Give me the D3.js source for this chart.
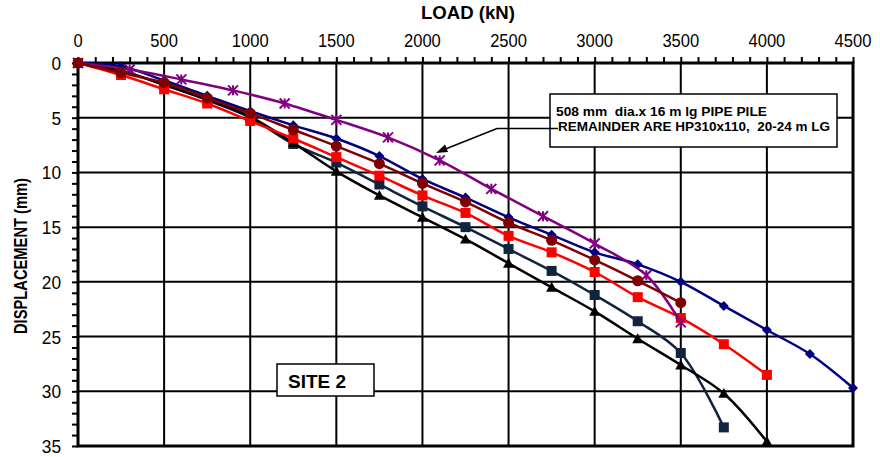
<!DOCTYPE html>
<html><head><meta charset="utf-8">
<script src="https://cdn.jsdelivr.net/npm/d3@7"></script>
<style>body{margin:0;background:#fff}svg{display:block}text{font-family:"Liberation Sans",Arial,sans-serif}</style>
</head><body><svg id="c" width="880" height="457"></svg>
<script>
const xTicks = [0,500,1000,1500,2000,2500,3000,3500,4000,4500];
const yTicks = [0,5,10,15,20,25,30,35];
const loads = [0,250,500,750,1000,1250,1500,1750,2000,2250,2500,2750,3000,3250,3500,3750,4000,4250,4500];
const navyDiamond = [0,0.3,1.6,3.0,4.4,5.7,6.9,8.5,10.6,12.3,14.1,15.7,17.3,18.4,20.0,22.2,24.4,26.6,29.7];
const maroonCircle = [0,0.9,1.8,3.2,4.6,6.1,7.6,9.2,11.0,12.7,14.6,16.2,18.0,19.9,21.9];
const redSquare = [0,1.1,2.4,3.7,5.3,6.9,8.6,10.3,12.1,13.7,15.8,17.3,19.1,21.4,23.3,25.7,28.5];
const darkSquare = [0,0.7,2.0,3.4,5.0,7.4,9.1,11.1,13.1,15.0,17.0,19.0,21.2,23.6,26.5,33.3];
const blackTriangle = [0,0.7,2.0,3.3,4.9,7.3,9.9,12.1,14.1,16.1,18.3,20.5,22.7,25.2,27.6,30.2,34.6];
const pipeLoads = [0,300,600,900,1200,1500,1800,2100,2400,2700,3000,3300,3500];
const pipeStar = [0,0.6,1.5,2.5,3.7,5.2,6.8,8.9,11.5,14.0,16.5,19.4,23.7];
const xTitle = "LOAD (kN)";
const yTitle = "DISPLACEMENT (mm)";
const note1 = "508 mm  dia.x 16 m lg PIPE PILE";
const note2 = "REMAINDER ARE HP310x110,  20-24 m LG";
const siteLabel = "SITE 2";

const svg = d3.select("#c");
const x = d3.scaleLinear().domain([0,4500]).range([78,853]);
const y = d3.scaleLinear().domain([0,35]).range([63,446]);

// grid
const g = svg.append("g");
g.selectAll(".vg").data(xTicks.slice(1,-1)).join("line")
  .attr("x1",d=>x(d)).attr("x2",d=>x(d)).attr("y1",y(0)).attr("y2",y(35))
  .attr("stroke","#000").attr("stroke-width",2);
g.selectAll(".hg").data(yTicks.slice(1,-1)).join("line")
  .attr("x1",x(0)).attr("x2",x(4500)).attr("y1",d=>y(d)).attr("y2",d=>y(d))
  .attr("stroke","#000").attr("stroke-width",2);
g.append("rect").attr("x",x(0)).attr("y",y(0)).attr("width",x(4500)-x(0)).attr("height",y(35)-y(0))
  .attr("fill","none").attr("stroke","#000").attr("stroke-width",3);

// axes
const xAxis = d3.axisTop(x).tickValues(d3.range(0,4501,100)).tickSize(6).tickFormat("");
svg.append("g").attr("transform",`translate(0,${y(0)})`).call(xAxis)
  .call(s=>{s.select(".domain").remove(); s.selectAll("line").attr("stroke","#000").attr("stroke-width",2);});
svg.append("g").selectAll("text").data(xTicks).join("text")
  .attr("x",d=>x(d)).attr("y",47).attr("text-anchor","middle").attr("font-size",19)
  .attr("textLength",d=>String(d).length*9.2).attr("lengthAdjust","spacingAndGlyphs").text(d=>d);
const yAxis = d3.axisLeft(y).tickValues(d3.range(0,36,1)).tickSize(6).tickFormat("");
svg.append("g").attr("transform",`translate(${x(0)},0)`).call(yAxis)
  .call(s=>{s.select(".domain").remove(); s.selectAll("line").attr("stroke","#000").attr("stroke-width",2);});
svg.append("g").selectAll("text").data(yTicks).join("text")
  .attr("x",61).attr("y",d=>y(d)+7).attr("text-anchor","end").attr("font-size",19)
  .attr("textLength",d=>String(d).length*9.6).attr("lengthAdjust","spacingAndGlyphs").text(d=>d);

svg.append("text").attr("x",468).attr("y",19).attr("text-anchor","middle").attr("font-size",18)
  .attr("font-weight","bold").attr("textLength",94).attr("lengthAdjust","spacingAndGlyphs").text(xTitle);
svg.append("text").attr("transform","translate(27,256) rotate(-90)").attr("text-anchor","middle")
  .attr("font-size",19).attr("font-weight","bold").attr("textLength",156).attr("lengthAdjust","spacingAndGlyphs").text(yTitle);

// series
const line = d3.line().x(d=>x(d[0])).y(d=>y(d[1])).curve(d3.curveCatmullRom.alpha(0.5));
function pts(xs,ys){return ys.map((v,i)=>[xs[i],v]);}
const series = [
  {data:pts(loads,darkSquare), color:"#10243f", mark:"square", size:10},
  {data:pts(loads,blackTriangle), color:"#000000", mark:"triangle", size:11},
  {data:pts(loads,redSquare), color:"#ff0000", mark:"square", size:10},
  {data:pts(loads,navyDiamond), color:"#000080", mark:"diamond", size:10},
  {data:pts(pipeLoads,pipeStar), color:"#800080", mark:"star", size:10},
  {data:pts(loads,maroonCircle), color:"#800000", mark:"circle", size:11}
];
series.forEach(s=>{
  const sg = svg.append("g");
  sg.append("path").attr("d",line(s.data)).attr("fill","none").attr("stroke",s.color).attr("stroke-width",2.5);
  const m = sg.selectAll("g.m").data(s.data).join("g").attr("transform",d=>`translate(${x(d[0])},${y(d[1])})`);
  const h = s.size/2;
  if(s.mark==="square") m.append("rect").attr("x",-h).attr("y",-h).attr("width",s.size).attr("height",s.size).attr("fill",s.color);
  if(s.mark==="circle") m.append("circle").attr("r",h).attr("fill",s.color);
  if(s.mark==="diamond") m.append("path").attr("d",`M0,${-h}L${h},0L0,${h}L${-h},0Z`).attr("fill",s.color);
  if(s.mark==="triangle") m.append("path").attr("d",`M0,${-h}L${h},${h*0.8}L${-h},${h*0.8}Z`).attr("fill",s.color);
  if(s.mark==="star") m.append("path").attr("d",`M${-h},${-h}L${h},${h}M${-h},${h}L${h},${-h}M0,${-h}L0,${h}`).attr("stroke",s.color).attr("stroke-width",2);
});

// annotation
svg.append("rect").attr("x",550).attr("y",94).attr("width",287).attr("height",53).attr("fill","#fff").attr("stroke","#000").attr("stroke-width",1.5);
svg.append("text").attr("x",556).attr("y",116).attr("font-size",13).attr("font-weight","bold").style("white-space","pre")
  .attr("textLength",211).attr("lengthAdjust","spacingAndGlyphs").text(note1);
svg.append("text").attr("x",558).attr("y",131).attr("font-size",13).attr("font-weight","bold").style("white-space","pre")
  .attr("textLength",272).attr("lengthAdjust","spacingAndGlyphs").text(note2);
svg.append("path").attr("d",`M558,128.5L497,128.5L443,150`).attr("fill","none").attr("stroke","#000").attr("stroke-width",1.5);
svg.append("path").attr("d","M436,153L445,144.5L448,152Z").attr("fill","#000");

svg.append("rect").attr("x",277).attr("y",364).attr("width",97).attr("height",32).attr("fill","#fff").attr("stroke","#000").attr("stroke-width",1.5);
svg.append("text").attr("x",288).attr("y",388).attr("font-size",18).attr("font-weight","bold")
  .attr("textLength",58).attr("lengthAdjust","spacingAndGlyphs").text(siteLabel);
</script></body></html>
